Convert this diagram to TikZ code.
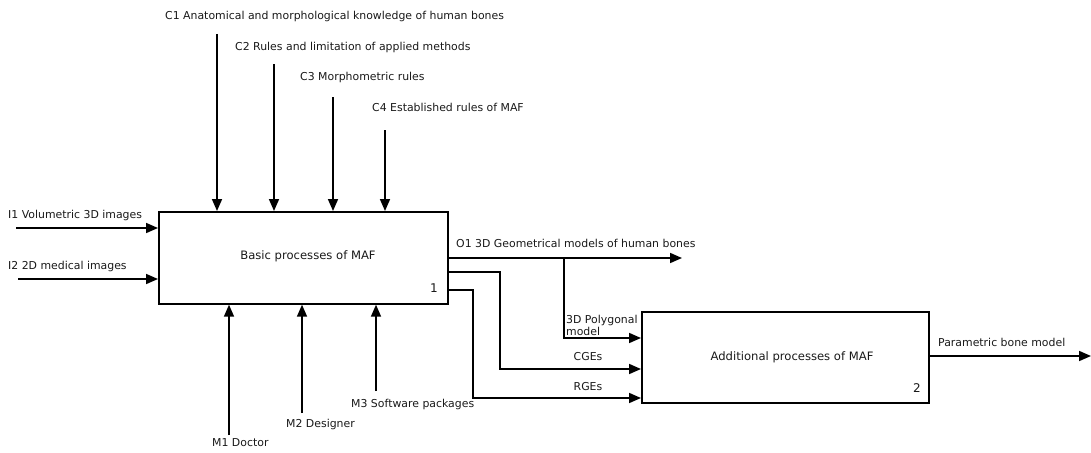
\documentclass[tikz,border=0pt]{standalone}
\usepackage{fontspec}
\setmainfont{DejaVu Sans}
\usetikzlibrary{arrows.meta}
\begin{document}
\begin{tikzpicture}[x=1pt,y=-1pt,
  every node/.style={font=\fontsize{10.9}{12}\selectfont, text=black!90, inner sep=0pt},
  procbox/.style={draw, line width=1.7pt, rectangle, anchor=north west},
  boxtext/.style={font=\fontsize{11.6}{13}\selectfont},
  boxnum/.style={anchor=east, font=\fontsize{12}{13}\selectfont},
  flow/.style={line width=1.7pt},
  arr/.style={flow, -{Triangle[length=12pt,width=10pt]}},
  lbl/.style={anchor=west},
]
\useasboundingbox (0,0) rectangle (1091,452);

% activity boxes
\node[procbox, minimum width=289pt, minimum height=92pt] (A1) at (158,211) {};
\node[boxtext] at (308,256) {Basic processes of MAF};
\node[boxnum] (n1) at (438,288) {1};

\node[procbox, minimum width=287pt, minimum height=91pt] (A2) at (641,311) {};
\node[boxtext] at (792,357) {Additional processes of MAF};
\node[boxnum] (n2) at (921,388) {2};

% controls
\coordinate (c1) at (217,34);
\coordinate (c2) at (274,64);
\coordinate (c3) at (333,97);
\coordinate (c4) at (385,130);
\draw[arr] (c1) -- (c1 |- A1.north);
\draw[arr] (c2) -- (c2 |- A1.north);
\draw[arr] (c3) -- (c3 |- A1.north);
\draw[arr] (c4) -- (c4 |- A1.north);
\node[lbl] (lc1) at (165,16) {C1 Anatomical and morphological knowledge of human bones};
\node[lbl] (lc2) at (235,47) {C2 Rules and limitation of applied methods};
\node[lbl] (lc3) at (300,77) {C3 Morphometric rules};
\node[lbl] (lc4) at (372,107) {C4 Established rules of MAF};

% inputs
\coordinate (i1) at (16,228);
\coordinate (i2) at (18,279);
\draw[arr] (i1) -- (i1 -| A1.west);
\draw[arr] (i2) -- (i2 -| A1.west);
\node[lbl] (li1) at (8,215) {I1 Volumetric 3D images};
\node[lbl] (li2) at (8,266) {I2 2D medical images};

% mechanisms
\coordinate (m1) at (229,435);
\coordinate (m2) at (302,413);
\coordinate (m3) at (376,391);
\draw[arr] (m1) -- (m1 |- A1.south);
\draw[arr] (m2) -- (m2 |- A1.south);
\draw[arr] (m3) -- (m3 |- A1.south);
\node[lbl] (lm1) at (212,443) {M1 Doctor};
\node[lbl] (lm2) at (286,424) {M2 Designer};
\node[lbl] (lm3) at (351,404) {M3 Software packages};

% outputs of block 1
\coordinate (o1) at (682,258);
\coordinate (br) at (564,258);
\coordinate (pm) at (564,338);
\coordinate (cg1) at (500,272);
\coordinate (cg2) at (500,369);
\coordinate (rg1) at (473,290);
\coordinate (rg2) at (473,398);
\draw[arr] (o1 -| A1.east) -- (o1);
\draw[arr] (br) -- (pm) -- (pm -| A2.west);
\draw[arr] (cg1 -| A1.east) -- (cg1) -- (cg2) -- (cg2 -| A2.west);
\draw[arr] (rg1 -| A1.east) -- (rg1) -- (rg2) -- (rg2 -| A2.west);
\node[lbl] (lo1) at (456,243) {O1 3D Geometrical models of human bones};
\node[lbl, align=left] (lpm) at (566,325) {3D Polygonal\\model};
\node (lcg) at (588,357) {CGEs};
\node (lrg) at (588,387) {RGEs};

% output of block 2
\coordinate (o2) at (1091,356);
\draw[arr] (o2 -| A2.east) -- (o2);
\node[lbl] (lo2) at (938,342) {Parametric bone model};
\end{tikzpicture}
\end{document}
